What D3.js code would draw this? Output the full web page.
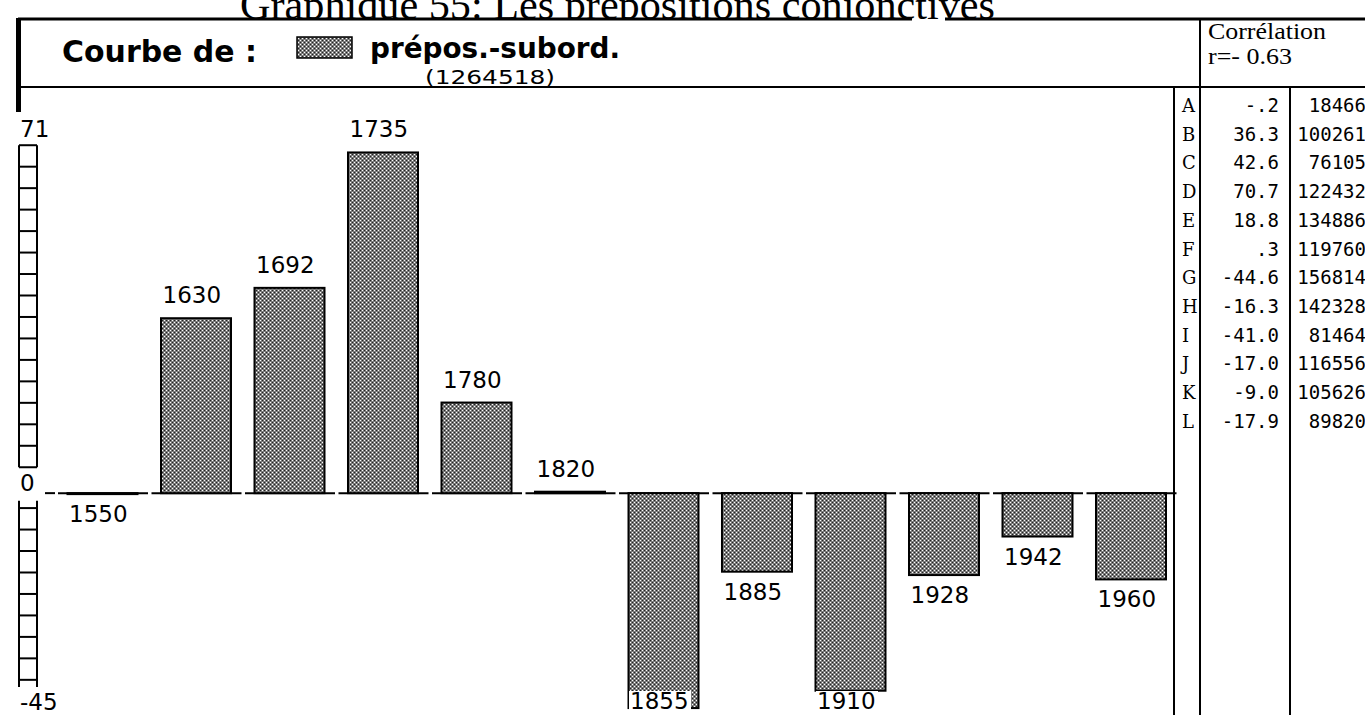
<!DOCTYPE html>
<html>
<head>
<meta charset="utf-8">
<script src="https://cdn.jsdelivr.net/npm/d3@7"></script>
<style>
body { margin: 0; background: #fff; overflow: hidden; }
</style>
</head>
<body>
<svg id="chart"></svg>
<script>
// données du graphique
var periodes = ['1550', '1630', '1692', '1735', '1780', '1820', '1855', '1885', '1910', '1928', '1942', '1960'];
var lettres = ['A', 'B', 'C', 'D', 'E', 'F', 'G', 'H', 'I', 'J', 'K', 'L'];
var ecarts = [-0.2, 36.3, 42.6, 70.7, 18.8, 0.3, -44.6, -16.3, -41.0, -17.0, -9.0, -17.9];
var effectifs = [18466, 100261, 76105, 122432, 134886, 119760, 156814, 142328, 81464, 116556, 105626, 89820];
var yTicks = [71, 0, -45];
var titre = 'Graphique 55: Les prépositions conjonctives';
var serie = 'prépos.-subord.';
var total = '(1264518)';
var correlation = 'r=- 0.63';

var W = 1365, H = 715;
var svg = d3.select('#chart').attr('width', W).attr('height', H);

// trame grise des barres
var pat = svg.append('defs').append('pattern')
    .attr('id', 'trame')
    .attr('width', 4).attr('height', 4)
    .attr('patternUnits', 'userSpaceOnUse');
pat.append('rect').attr('width', 4).attr('height', 4).attr('fill', '#7c7c7c');
pat.append('rect').attr('x', 0).attr('y', 0).attr('width', 1).attr('height', 1).attr('fill', '#fff');
pat.append('rect').attr('x', 2).attr('y', 2).attr('width', 1).attr('height', 1).attr('fill', '#fff');
pat.append('rect').attr('x', 2).attr('y', 0).attr('width', 1).attr('height', 1).attr('fill', '#222');
pat.append('rect').attr('x', 0).attr('y', 2).attr('width', 1).attr('height', 1).attr('fill', '#222');

// échelles
var x = d3.scaleBand().domain(periodes).range([58, 1180]);
var y = d3.scaleLinear().domain([-45, 71]).range([710, 151]);

// titre (coupé en haut)
svg.append('text')
    .attr('x', 240).attr('y', 19)
    .attr('font-family', 'Liberation Serif')
    .attr('font-size', 42)
    .attr('textLength', 755)
    .attr('lengthAdjust', 'spacingAndGlyphs')
    .text(titre);

// cadre de l'en-tête
svg.append('rect').attr('x', 18).attr('y', 20).attr('width', W - 18).attr('height', 67).attr('fill', '#fff');
svg.append('path')
    .attr('d', 'M18,19H912M945,19H' + W)
    .attr('stroke', '#000').attr('stroke-width', 3);
svg.append('rect').attr('x', 16).attr('y', 18).attr('width', 5).attr('height', 94).attr('fill', '#000');
svg.append('line').attr('x1', 18).attr('x2', W).attr('y1', 87).attr('y2', 87)
    .attr('stroke', '#000').attr('stroke-width', 2);

svg.append('text')
    .attr('x', 62).attr('y', 62)
    .attr('font-family', 'DejaVu Sans Condensed')
    .attr('font-weight', 'bold')
    .attr('font-size', 30)
    .attr('textLength', 195)
    .attr('lengthAdjust', 'spacingAndGlyphs')
    .text('Courbe de :');
svg.append('rect')
    .attr('x', 297).attr('y', 37).attr('width', 55).attr('height', 21)
    .attr('fill', 'url(#trame)').attr('stroke', '#000').attr('stroke-width', 1.5);
svg.append('text')
    .attr('x', 370).attr('y', 58)
    .attr('font-family', 'DejaVu Sans Condensed')
    .attr('font-weight', 'bold')
    .attr('font-size', 29)
    .attr('textLength', 250)
    .attr('lengthAdjust', 'spacingAndGlyphs')
    .text(serie);
svg.append('text')
    .attr('x', 425).attr('y', 84)
    .attr('font-family', 'DejaVu Sans')
    .attr('font-size', 20)
    .attr('textLength', 130)
    .attr('lengthAdjust', 'spacingAndGlyphs')
    .text(total);

svg.append('line').attr('x1', 1200).attr('x2', 1200).attr('y1', 18).attr('y2', H)
    .attr('stroke', '#000').attr('stroke-width', 2);
svg.append('text')
    .attr('x', 1208).attr('y', 39)
    .attr('font-family', 'Liberation Serif')
    .attr('font-size', 24)
    .attr('textLength', 118)
    .attr('lengthAdjust', 'spacingAndGlyphs')
    .text('Corrélation');
svg.append('text')
    .attr('x', 1208).attr('y', 64)
    .attr('font-family', 'Liberation Serif')
    .attr('font-size', 24)
    .attr('textLength', 84)
    .attr('lengthAdjust', 'spacingAndGlyphs')
    .text(correlation);

// échelle verticale en échelons
var echelle = svg.append('g').attr('stroke', '#000').attr('stroke-width', 2).attr('fill', 'none');
var pas = 4.455;
var hautDebut = 72.2, hautFin = hautDebut - 15 * pas;
var basDebut = -3.1, basFin = basDebut - 8 * pas;
echelle.append('path').attr('d',
    'M19,' + y(hautDebut) + 'V' + y(hautFin) + 'M37,' + y(hautDebut) + 'V' + y(hautFin) +
    'M19,' + y(basDebut + 1.5) + 'V' + y(basFin - 1.5) + 'M37,' + y(basDebut + 1.5) + 'V' + y(basFin - 1.5));
echelle.selectAll('line.haut')
    .data(d3.range(0, 16).map(function(k) { return hautDebut - k * pas; }))
    .enter().append('line')
    .attr('x1', 19).attr('x2', 37)
    .attr('y1', function(d) { return y(d); })
    .attr('y2', function(d) { return y(d); });
echelle.selectAll('line.bas')
    .data(d3.range(0, 9).map(function(k) { return basDebut - k * pas; }))
    .enter().append('line')
    .attr('x1', 19).attr('x2', 37)
    .attr('y1', function(d) { return y(d); })
    .attr('y2', function(d) { return y(d); });

svg.selectAll('text.tick')
    .data(yTicks)
    .enter().append('text')
    .attr('x', 20)
    .attr('y', function(d) { return d > 0 ? y(d) - 14 : (d === 0 ? y(d) - 2 : y(d)); })
    .attr('font-family', 'DejaVu Sans')
    .attr('font-size', 23)
    .text(function(d) { return d; });

// ligne du zéro, un trait par case
svg.append('line').attr('x1', 45).attr('x2', 55).attr('y1', y(0)).attr('y2', y(0))
    .attr('stroke', '#000').attr('stroke-width', 2);
svg.selectAll('line.zero')
    .data(periodes)
    .enter().append('line')
    .attr('x1', function(d) { return x(d); })
    .attr('x2', function(d) { return x(d) + x.bandwidth() - 3.5; })
    .attr('y1', y(0)).attr('y2', y(0))
    .attr('stroke', '#000').attr('stroke-width', 2);

// barres
svg.selectAll('rect.barre')
    .data(ecarts)
    .enter().append('rect')
    .attr('x', function(d, i) { return x(periodes[i]) + 9.5; })
    .attr('y', function(d) { return Math.min(y(d), y(0)); })
    .attr('width', 70)
    .attr('height', function(d) { return Math.abs(y(d) - y(0)); })
    .attr('fill', 'url(#trame)')
    .attr('stroke', '#000')
    .attr('stroke-width', 2);

// étiquettes des périodes
var etiquettes = svg.selectAll('g.etiquette')
    .data(ecarts)
    .enter().append('g')
    .attr('transform', function(d, i) {
        var base = d > 0 ? y(d) - 15 : Math.min(y(d) + 11, 692) + 17;
        return 'translate(' + (x(periodes[i]) + 11) + ',' + base + ')';
    });
etiquettes.append('rect')
    .attr('x', -1).attr('y', -18).attr('width', 62).attr('height', 22)
    .attr('fill', '#fff');
etiquettes.append('text')
    .attr('font-family', 'DejaVu Sans')
    .attr('font-size', 23)
    .text(function(d, i) { return periodes[i]; });

// tableau de droite
svg.append('line').attr('x1', 1174).attr('x2', 1174).attr('y1', 88).attr('y2', H)
    .attr('stroke', '#000').attr('stroke-width', 2);
svg.append('line').attr('x1', 1290).attr('x2', 1290).attr('y1', 88).attr('y2', H)
    .attr('stroke', '#000').attr('stroke-width', 2);

// format à l'ancienne : "-.2", ".3"
var fmt = function(v) {
    return d3.format('.1f')(v).replace('\u2212', '-').replace(/^(-?)0\./, '$1.');
};
var ligne = function(i) { return 105 + i * 28.7 + 7; };
svg.selectAll('text.lettre')
    .data(lettres)
    .enter().append('text')
    .attr('x', 1182).attr('y', function(d, i) { return ligne(i); })
    .attr('font-family', 'DejaVu Serif')
    .attr('font-size', 18)
    .text(function(d) { return d; });
svg.selectAll('text.ecart')
    .data(ecarts)
    .enter().append('text')
    .attr('x', 1279).attr('y', function(d, i) { return ligne(i); })
    .attr('text-anchor', 'end')
    .attr('font-family', 'DejaVu Sans Mono')
    .attr('font-size', 19)
    .text(fmt);
svg.selectAll('text.effectif')
    .data(effectifs)
    .enter().append('text')
    .attr('x', 1366).attr('y', function(d, i) { return ligne(i); })
    .attr('text-anchor', 'end')
    .attr('font-family', 'DejaVu Sans Mono')
    .attr('font-size', 19)
    .text(function(d) { return d; });
</script>
</body>
</html>
